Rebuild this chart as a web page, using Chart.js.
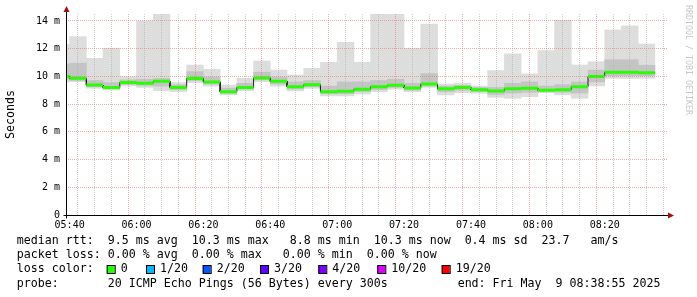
<!DOCTYPE html>
<html>
<head>
<meta charset="utf-8">
<script src="https://cdn.jsdelivr.net/npm/chart.js@4/dist/chart.umd.min.js"></script>
<style>
  html, body { margin: 0; padding: 0; background: #fff; }
  canvas { display: block; }
</style>
</head>
<body>
<canvas id="pingChart" width="697" height="297"></canvas>
<script>
// 5-minute intervals (start time), the last 3 hours up to 08:38:55
const intervalStart = [
  "05:35", "05:40", "05:45", "05:50", "05:55", "06:00", "06:05", "06:10", "06:15",
  "06:20", "06:25", "06:30", "06:35", "06:40", "06:45", "06:50", "06:55", "07:00",
  "07:05", "07:10", "07:15", "07:20", "07:25", "07:30", "07:35", "07:40", "07:45",
  "07:50", "07:55", "08:00", "08:05", "08:10", "08:15", "08:20", "08:25", "08:30"
];

// smoke: slowest ping, upper band, lower band, fastest ping (ms)
const smokeMax = [
  12.3, 12.87, 11.3, 12.03, 9.98, 14.0, 14.6, 9.55, 10.82,
  10.51, 9.38, 9.86, 11.11, 10.46, 10.1, 10.58, 11.02, 12.46,
  11.02, 14.6, 14.6, 12.03, 13.78, 9.45, 9.5, 9.31, 10.42,
  11.62, 10.18, 11.86, 14.07, 10.82, 11.06, 13.35, 13.64, 12.34
];
const smokeHi = [
  10.9, 10.95, 9.7, 9.55, 9.75, 9.8, 9.85, 9.4, 10.34,
  9.95, 9.15, 9.5, 10.3, 9.95, 9.6, 9.7, 9.3, 9.6,
  9.6, 9.7, 9.8, 9.5, 10.2, 9.3, 9.35, 9.2, 9.2,
  9.5, 9.6, 9.3, 9.4, 9.6, 10.45, 11.2, 11.2, 10.8
];
const smokeLo = [
  9.8, 9.7, 9.25, 9.1, 9.42, 9.35, 9.3, 9.05, 9.7,
  9.45, 8.78, 9.08, 9.75, 9.45, 9.1, 9.25, 8.75, 8.75,
  8.9, 9.05, 9.2, 9.0, 9.3, 8.9, 9.0, 8.9, 8.7,
  8.8, 8.85, 8.9, 8.85, 8.8, 9.6, 10.05, 10.05, 10.05
];
const smokeMin = [
  9.6, 9.62, 9.14, 9.02, 9.31, 9.21, 8.97, 8.9, 9.55,
  9.3, 8.66, 8.97, 9.62, 9.3, 8.95, 9.14, 8.59, 8.59,
  8.73, 8.9, 9.07, 8.9, 9.2, 8.66, 8.82, 8.78, 8.49,
  8.42, 8.54, 8.82, 8.66, 8.42, 9.31, 9.86, 9.86, 9.86
];
const medianRtt = [
  10.0, 9.86, 9.37, 9.2, 9.56, 9.5, 9.65, 9.2, 9.85,
  9.6, 8.9, 9.2, 9.88, 9.65, 9.26, 9.4, 8.9, 8.93,
  9.08, 9.26, 9.36, 9.17, 9.45, 9.1, 9.19, 9.04, 8.95,
  9.1, 9.14, 9.0, 9.04, 9.25, 9.99, 10.3, 10.3, 10.26
];

// axis ticks
const xLabelTimes = ["05:40", "06:00", "06:20", "06:40", "07:00", "07:20", "07:40", "08:00", "08:20"];
const yTickValues = [0, 1, 2, 3, 4, 5, 6, 7, 8, 9, 10, 11, 12, 13, 14];

// legend
const lossSteps = ["0", "1/20", "2/20", "3/20", "4/20", "10/20", "19/20"];
const lossColors = ["#26ff00", "#00b8ff", "#0059ff", "#5e00ff", "#7e00ff", "#dd00ff", "#ff0000"];
const legendLines = [
  "median rtt:  9.5 ms avg  10.3 ms max   8.8 ms min  10.3 ms now  0.4 ms sd  23.7   am/s",
  "packet loss: 0.00 % avg  0.00 % max   0.00 % min  0.00 % now",
  "loss color:",
  "probe:       20 ICMP Echo Pings (56 Bytes) every 300s          end: Fri May  9 08:38:55 2025"
];

const STEP = 5; // minutes
const toMin = (t) => { const [h, m] = t.split(":").map(Number); return h * 60 + m; };
const xMin = toMin("05:38") + 55 / 60;
const xMax = xMin + 180;

const starts = intervalStart.map(toMin);
const band = (hi, lo) => starts.map((s, i) => ({ x: s + STEP / 2, y: [lo[i], hi[i]] }));

// median as a step path, and green pieces per interval
const medianPath = starts.flatMap((s, i) => [{ x: s, y: medianRtt[i] }, { x: s + STEP, y: medianRtt[i] }]);
const medianPieces = starts.flatMap((s, i) => [
  { x: s, y: medianRtt[i] }, { x: s + STEP, y: medianRtt[i] }, { x: s + STEP, y: null }
]);

const MONO = '"DejaVu Sans Mono", monospace';
const legendBoxX = [106.7, 146, 202.7, 260, 318.3, 377.3, 441.7];

const decor = {
  id: "decor",
  afterDraw(chart) {
    const { ctx, chartArea: a } = chart;
    ctx.save();

    // axes
    const ax = Math.round(a.left) + 0.5;
    const ay = Math.round(a.bottom) + 0.5;
    ctx.strokeStyle = "#000";
    ctx.lineWidth = 1;
    ctx.beginPath();
    ctx.moveTo(ax, ay + 3);
    ctx.lineTo(ax, a.top - 4);
    ctx.moveTo(ax - 3, ay);
    ctx.lineTo(a.right + 2, ay);
    ctx.stroke();

    // arrows
    ctx.fillStyle = "#a01010";
    ctx.beginPath();
    ctx.moveTo(ax, a.top - 8);
    ctx.lineTo(ax - 3, a.top - 2);
    ctx.lineTo(ax + 3, a.top - 2);
    ctx.closePath();
    ctx.fill();
    ctx.beginPath();
    ctx.moveTo(a.right + 6, ay);
    ctx.lineTo(a.right + 0, ay - 3);
    ctx.lineTo(a.right + 0, ay + 3);
    ctx.closePath();
    ctx.fill();

    // watermark
    ctx.save();
    ctx.translate(684, 5);
    ctx.rotate(Math.PI / 2);
    ctx.font = "8.3px " + MONO;
    ctx.fillStyle = "#c8c8c8";
    ctx.textBaseline = "bottom";
    ctx.fillText("RRDTOOL / TOBI OETIKER", 0, 0);
    ctx.restore();

    // legend text
    ctx.font = "11.63px " + MONO;
    ctx.fillStyle = "#000";
    ctx.textBaseline = "middle";
    const lineY = [241, 255, 269, 283.5];
    legendLines.forEach((txt, i) => ctx.fillText(txt, 16.7, lineY[i]));

    lossSteps.forEach((lbl, i) => {
      const bx = legendBoxX[i];
      ctx.fillStyle = lossColors[i];
      ctx.fillRect(bx, 265, 8, 8);
      ctx.strokeStyle = "#000";
      ctx.strokeRect(bx + 0.5, 265.5, 8, 8);
      ctx.fillStyle = "#000";
      ctx.fillText(lbl, bx + 14, lineY[2]);
    });

    ctx.restore();
  }
};

const majorX = xLabelTimes.map(toMin);
const gridColor = (major) => major ? "rgba(225,120,120,0.6)" : "rgba(175,175,175,0.6)";

new Chart(document.getElementById("pingChart"), {
  type: "bar",
  data: {
    datasets: [
      {
        type: "line", data: medianPieces, borderColor: "#26ff00", borderWidth: 3,
        borderCapStyle: "butt", pointRadius: 0, spanGaps: false, order: 0, clip: 0
      },
      {
        type: "line", data: medianPath, borderColor: "#202020", borderWidth: 1,
        pointRadius: 0, order: 1, clip: 0
      },
      { data: band(smokeHi, smokeLo), backgroundColor: "#c4c4c4", order: 2 },
      { data: band(smokeMax, smokeMin), backgroundColor: "#dddddd", order: 3 }
    ].map(d => d.type ? d : Object.assign(d, {
      grouped: false, barPercentage: 1, categoryPercentage: 1, borderWidth: 0, clip: 0
    }))
  },
  options: {
    responsive: false,
    animation: false,
    events: [],
    layout: { padding: { left: 0, right: 29, top: 14, bottom: 66 } },
    plugins: { legend: { display: false }, tooltip: { enabled: false } },
    scales: {
      x: {
        type: "linear",
        min: xMin,
        max: xMax,
        offset: false,
        afterBuildTicks: (s) => {
          s.ticks = [];
          for (let v = toMin("05:40"); v < xMax; v += STEP) s.ticks.push({ value: v });
        },
        afterFit: (s) => { s.height = 16; },
        ticks: {
          autoSkip: false,
          maxRotation: 0,
          padding: 4,
          color: "#000",
          font: { family: MONO, size: 10 },
          callback: (v) => majorX.includes(v)
            ? String(Math.floor(v / 60)).padStart(2, "0") + ":" + String(v % 60).padStart(2, "0")
            : ""
        },
        grid: {
          z: 1,
          drawTicks: false,
          color: (c) => gridColor(majorX.includes(c.tick && c.tick.value))
        },
        border: { display: false, dash: [1, 1] }
      },
      y: {
        min: 0,
        max: 14.5,
        afterBuildTicks: (s) => { s.ticks = yTickValues.map(v => ({ value: v })); },
        afterFit: (s) => { s.width = 66; },
        title: { display: true, text: "Seconds", color: "#000", font: { family: MONO, size: 11.63 } },
        ticks: {
          padding: 6,
          color: "#000",
          font: { family: MONO, size: 10 },
          callback: (v) => v === 0 ? "0" : (v % 2 === 0 ? v + " m" : "")
        },
        grid: {
          z: 1,
          drawTicks: false,
          color: (c) => gridColor(c.tick && c.tick.value % 2 === 0)
        },
        border: { display: false, dash: [1, 1] }
      }
    }
  },
  plugins: [decor]
});
</script>
</body>
</html>
